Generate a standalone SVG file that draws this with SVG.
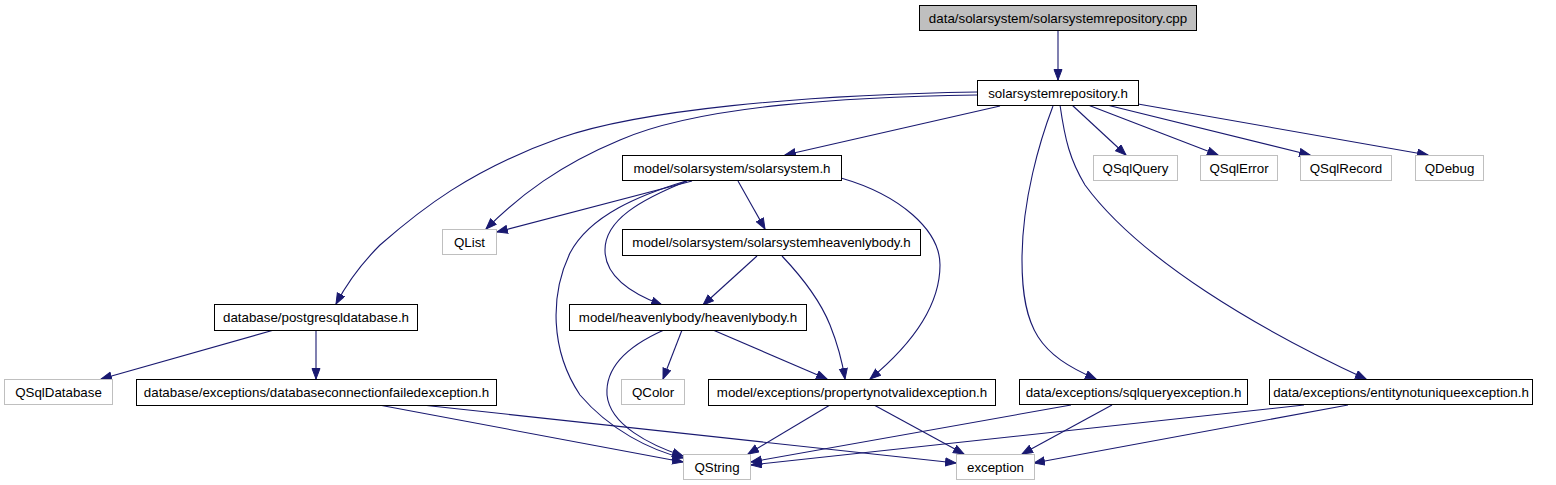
<svg xmlns="http://www.w3.org/2000/svg" width="1556" height="485" viewBox="0 0 1556 485">
<style>
.n rect{fill:#fff;stroke:#000;stroke-width:1}
.g rect{fill:#fff;stroke:#bfbfbf;stroke-width:1}
.r rect{fill:#bfbfbf;stroke:#000;stroke-width:1}
text{font-family:"Liberation Sans",Arial,sans-serif;font-size:13.33px;fill:#000;text-anchor:middle}
#edges path{fill:none;stroke:#191970;stroke-width:1.1;marker-end:url(#ah)}
</style>
<defs>
<marker id="ah" markerUnits="userSpaceOnUse" markerWidth="12" markerHeight="10" refX="11" refY="4.5" orient="auto">
<path d="M0.5,0.5 L11,4.5 L0.5,8.5 z" fill="#191970" stroke="#191970" stroke-width="1"/>
</marker>
</defs>
<rect width="1556" height="485" fill="#fff"/>
<g id="edges">
<path d="M1058,31 L1058,80"/>
<path d="M977,92 C800,95 640,110 560,138 C470,170 420,210 380,245 C360,265 346,285 336,304"/>
<path d="M977,95 C850,97 700,105 620,140 C560,165 520,195 486,229"/>
<path d="M1000,106 L785,155"/>
<path d="M1072,105 L1126,155"/>
<path d="M1088,105 L1218,155"/>
<path d="M1107,105 L1310,155"/>
<path d="M1138,104 L1428,155"/>
<path d="M1053,106 C1040,140 1022,200 1022,260 C1022,330 1040,355 1096,379"/>
<path d="M1060,105 C1065,140 1070,160 1085,185 C1140,260 1260,330 1366,379"/>
<path d="M738,181 L765,229"/>
<path d="M692,181 L497,232"/>
<path d="M686,181 C640,195 590,215 570,253 C550,295 550,350 580,395 C610,430 650,450 683,458"/>
<path d="M687,181 C640,200 605,220 605,250 C605,275 630,293 662,305"/>
<path d="M841,178 C900,195 940,230 940,265 C940,310 905,350 870,379"/>
<path d="M757,256 L703,305"/>
<path d="M782,256 C800,275 820,300 830,325 C838,345 842,360 845,379"/>
<path d="M682,330 L663,379"/>
<path d="M713,330 L827,379"/>
<path d="M664,330 C630,345 605,365 607,395 C610,425 650,445 683,456"/>
<path d="M274,330 L101,379"/>
<path d="M316,330 L316,379"/>
<path d="M379,405 L683,462"/>
<path d="M422,405 L956,463"/>
<path d="M830,405 L748,454"/>
<path d="M874,405 L964,454"/>
<path d="M1071,405 L751,462"/>
<path d="M1112,405 L1022,454"/>
<path d="M1304,405 L751,465"/>
<path d="M1348,405 L1034,463"/>
</g>
<g id="n_root" class="r"><rect x="919.5" y="5.5" width="277" height="25"/><text x="1058" y="22.7">data/solarsystem/solarsystemrepository.cpp</text></g>
<g id="n_srh" class="n"><rect x="977.5" y="80.5" width="161" height="25"/><text x="1058" y="97.7">solarsystemrepository.h</text></g>
<g id="n_solarsystem" class="n"><rect x="622.5" y="155.5" width="219" height="25"/><text x="732" y="172.7">model/solarsystem/solarsystem.h</text></g>
<g id="n_qsqlquery" class="g"><rect x="1093.5" y="155.5" width="84" height="25"/><text x="1135.5" y="172.7">QSqlQuery</text></g>
<g id="n_qsqlerror" class="g"><rect x="1200.5" y="155.5" width="77" height="25"/><text x="1239" y="172.7">QSqlError</text></g>
<g id="n_qsqlrecord" class="g"><rect x="1300.5" y="155.5" width="91" height="25"/><text x="1346" y="172.7">QSqlRecord</text></g>
<g id="n_qdebug" class="g"><rect x="1415.5" y="155.5" width="68" height="25"/><text x="1449.5" y="172.7">QDebug</text></g>
<g id="n_qlist" class="g"><rect x="442.5" y="229.5" width="54" height="25"/><text x="469.5" y="246.7">QList</text></g>
<g id="n_sshb" class="n"><rect x="622.5" y="229.5" width="298" height="26"/><text x="771.5" y="247.2">model/solarsystem/solarsystemheavenlybody.h</text></g>
<g id="n_pgdb" class="n"><rect x="214.5" y="304.5" width="203" height="26"/><text x="316" y="322.2">database/postgresqldatabase.h</text></g>
<g id="n_hb" class="n"><rect x="569.5" y="304.5" width="237" height="26"/><text x="688" y="322.2">model/heavenlybody/heavenlybody.h</text></g>
<g id="n_qsqldatabase" class="g"><rect x="4.5" y="379.5" width="108" height="25"/><text x="58.5" y="396.7">QSqlDatabase</text></g>
<g id="n_dbconn" class="n"><rect x="136.5" y="379.5" width="360" height="26"/><text x="316.5" y="397.2">database/exceptions/databaseconnectionfailedexception.h</text></g>
<g id="n_qcolor" class="g"><rect x="621.5" y="379.5" width="63" height="25"/><text x="653" y="396.7">QColor</text></g>
<g id="n_pnv" class="n"><rect x="708.5" y="379.5" width="287" height="26"/><text x="852" y="397.2">model/exceptions/propertynotvalidexception.h</text></g>
<g id="n_sqlq" class="n"><rect x="1019.5" y="379.5" width="228" height="25"/><text x="1133.5" y="396.7">data/exceptions/sqlqueryexception.h</text></g>
<g id="n_enu" class="n"><rect x="1269.5" y="379.5" width="263" height="25"/><text x="1401" y="396.7">data/exceptions/entitynotuniqueexception.h</text></g>
<g id="n_qstring" class="g"><rect x="683.5" y="454.5" width="67" height="25"/><text x="717" y="471.7">QString</text></g>
<g id="n_exception" class="g"><rect x="956.5" y="454.5" width="78" height="25"/><text x="995.5" y="471.7">exception</text></g>
</svg>
